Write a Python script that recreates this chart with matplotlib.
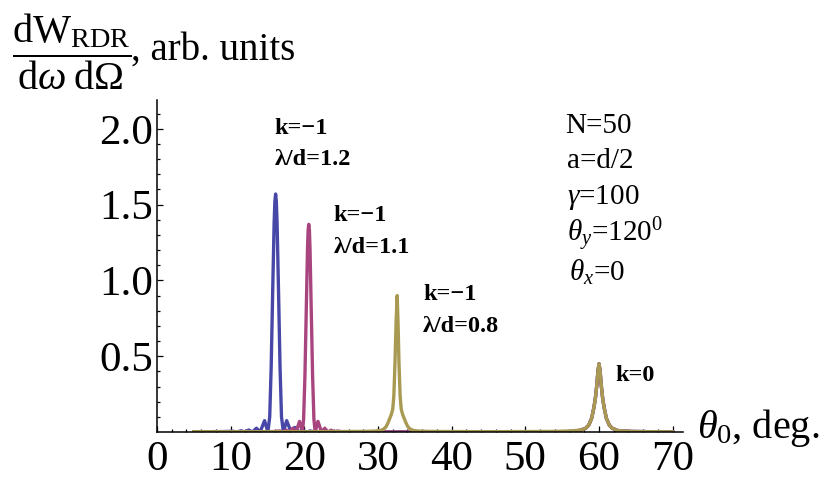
import matplotlib.pyplot as plt
import numpy as np

plt.rcParams['font.family'] = ['Liberation Serif', 'DejaVu Serif']
plt.rcParams['mathtext.fontset'] = 'custom'
plt.rcParams['mathtext.rm'] = 'Liberation Serif'
plt.rcParams['mathtext.it'] = 'Liberation Serif:italic'
plt.rcParams['mathtext.bf'] = 'Liberation Serif:bold'

# k=-1 peak, lambda/d = 1.2
blue_theta = [5.0, 7.0, 9.0, 10.3, 10.85, 11.4, 11.9, 12.45, 12.95, 13.5, 14.0, 14.6,
              15.05, 15.3, 15.5, 15.7, 15.9, 16.0, 16.1, 16.2, 16.3, 16.5, 16.7, 16.9,
              17.15, 17.6, 18.2, 18.7, 19.25, 19.75, 20.3, 20.8, 21.4, 23.0, 26.0,
              30.0, 40.0, 50.0, 56.0]
blue_w = [0.001, 0.002, 0.003, 0.005, 0.0, 0.008, 0.0, 0.013, 0.0, 0.025, 0.0, 0.075,
          0.0, 0.10, 0.43, 0.92, 1.38, 1.52, 1.57, 1.52, 1.38, 0.92, 0.43, 0.10,
          0.0, 0.075, 0.0, 0.03, 0.0, 0.013, 0.0, 0.007, 0.0, 0.002, 0.001,
          0.0, 0.0, 0.0, 0.0]

# k=-1 peak, lambda/d = 1.1
mag_theta = [5.0, 10.0, 14.0, 16.0, 16.68, 17.12, 17.55, 17.99, 18.43, 18.86, 19.35,
             19.73, 19.9, 20.08, 20.26, 20.43, 20.51, 20.6, 20.69, 20.77, 20.94, 21.12,
             21.3, 21.47, 21.85, 22.34, 22.77, 23.21, 23.65, 24.08, 24.52, 25.0, 27.0,
             30.0, 35.0, 45.0, 56.0]
mag_w = [0.0, 0.001, 0.002, 0.003, 0.007, 0.0, 0.012, 0.0, 0.025, 0.0, 0.07,
         0.0, 0.085, 0.37, 0.80, 1.21, 1.33, 1.37, 1.33, 1.21, 0.80, 0.37,
         0.085, 0.0, 0.07, 0.0, 0.025, 0.0, 0.012, 0.0, 0.007, 0.002, 0.001,
         0.0, 0.0, 0.0, 0.0]

# k=0 peak at 60 deg (same for the longer wavelengths, covered by the gold one)
k0_theta = [57.5, 58.2, 58.6, 59.0, 59.3, 59.5, 59.7, 59.85, 60.0, 60.15, 60.3, 60.5,
            60.7, 61.0, 61.4, 61.8, 62.5, 64.0, 67.0, 70.0]
k0_w = [0.012, 0.025, 0.045, 0.09, 0.16, 0.22, 0.31, 0.40, 0.45, 0.40, 0.31, 0.22,
        0.16, 0.09, 0.045, 0.025, 0.01, 0.004, 0.002, 0.001]

# k=-1 peak, lambda/d = 0.8
gold_theta = [5.0, 10.0, 15.0, 20.0, 25.0, 28.0, 29.5, 30.3, 30.75, 31.1, 31.35, 31.6,
              31.8, 32.0, 32.15, 32.3, 32.45, 32.6, 32.72, 32.85, 33.0, 33.15, 33.35,
              33.55, 33.8, 34.05, 34.4, 34.85, 35.6, 37.0, 40.0, 45.0, 50.0, 54.0, 56.0]
gold_w = [0.002, 0.002, 0.002, 0.002, 0.003, 0.004, 0.006, 0.01, 0.018, 0.035, 0.06, 0.09,
          0.115, 0.15, 0.24, 0.45, 0.72, 0.90, 0.72, 0.45, 0.24, 0.15, 0.115,
          0.09, 0.06, 0.035, 0.018, 0.01, 0.006, 0.004, 0.003, 0.002, 0.003, 0.004, 0.007]

series = [
    (blue_theta + k0_theta, blue_w + k0_w, '#4747a8'),
    (mag_theta + k0_theta, mag_w + k0_w, '#a8457e'),
    (gold_theta + k0_theta, gold_w + k0_w, '#a89a52'),
]

fig = plt.figure(figsize=(8.23, 4.8), dpi=100)
ax = fig.add_axes([157 / 823, 0.1, 526 / 823, 332 / 480])

for th, w, c in series:
    ax.plot(th, w, color=c, lw=2.4, solid_joinstyle='round')

ax.set_xlim(0, 71.4)
ax.set_ylim(0, 2.19)
ax.set_xticks(np.arange(0, 71, 10))
ax.set_xticks(np.arange(0, 71, 2), minor=True)
ax.set_yticks([0.5, 1.0, 1.5, 2.0])
ax.set_yticks(np.arange(0.1, 2.15, 0.1), minor=True)
ax.spines['top'].set_visible(False)
ax.spines['right'].set_visible(False)
for s in ['left', 'bottom']:
    ax.spines[s].set_linewidth(1.1)
ax.tick_params(which='both', direction='in', labelsize=31, width=0.9)
ax.tick_params(which='major', length=4.5)
ax.tick_params(which='minor', length=2.5)
ax.tick_params(axis='y', pad=3)
ax.tick_params(axis='x', pad=6)

# axis titles
fig.text(12 / 823, 1 - 52 / 480,
         r'$\dfrac{\mathrm{dW}_{\mathrm{RDR}}}{\mathrm{d}\omega\;\mathrm{d}\Omega}$',
         fontsize=29, va='center', ha='left')
fig.text(131 / 823, 1 - 50 / 480, ', arb. units', fontsize=28, va='center', ha='left')
fig.text(697 / 823, 1 - 428 / 480, r'$\theta_0$, deg.', fontsize=29, va='center', ha='left')

# peak annotations
bold = dict(fontsize=17.5, fontweight='bold', va='center', ha='left')
ax.text(16.0, 2.0, 'k=\u22121', **bold)
ax.text(16.0, 1.80, '\u03bb/d=1.2', **bold)
ax.text(24.0, 1.43, 'k=\u22121', **bold)
ax.text(24.0, 1.215, '\u03bb/d=1.1', **bold)
ax.text(36.1, 0.905, 'k=\u22121', **bold)
ax.text(36.1, 0.693, '\u03bb/d=0.8', **bold)
ax.text(62.2, 0.37, 'k=0', **bold)

params = dict(fontsize=21, va='center', ha='left')
ax.text(55.4, 2.02, 'N=50', **params)
ax.text(55.6, 1.79, 'a=d/2', **params)
ax.text(55.6, 1.545, r'$\gamma$=100', **params)
ax.text(55.7, 1.30, r'$\theta_y$=120$^0$', **params)
ax.text(55.9, 1.05, r'$\theta_x$=0', **params)

fig.savefig('out.png', dpi=100)
